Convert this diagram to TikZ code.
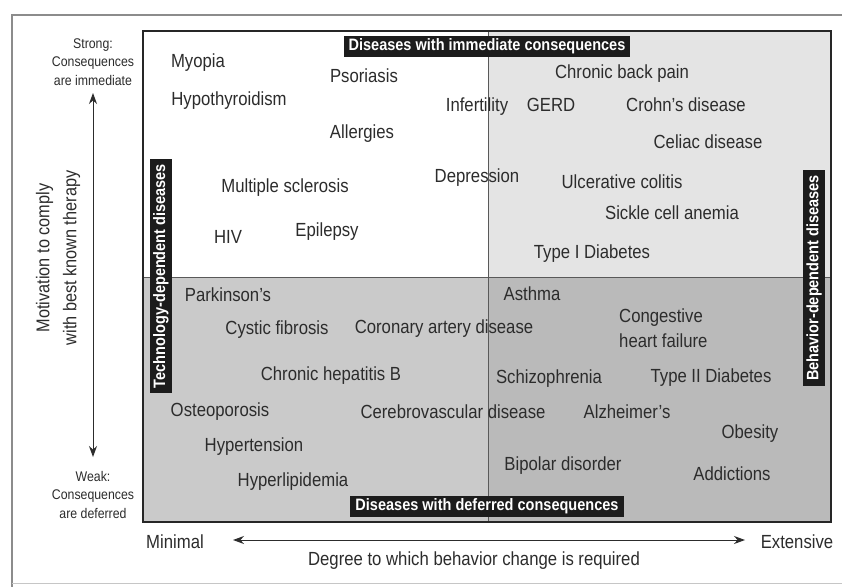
\documentclass[tikz,border=0pt]{standalone}
\usepackage{fontspec}
\setmainfont[FakeStretch=0.88]{Liberation Sans}
\usetikzlibrary{arrows.meta}
\definecolor{ink}{HTML}{2C2C2C}
\definecolor{frame}{HTML}{8C8C8C}
\definecolor{qtr}{HTML}{E4E4E4}
\definecolor{qbl}{HTML}{CACACA}
\definecolor{qbr}{HTML}{BABABA}
\definecolor{tagfill}{HTML}{1C1C1C}
\begin{document}
\begin{tikzpicture}[x=1pt,y=-1pt,
  dz/.style={font=\fontsize{19}{22}\selectfont, text=ink, inner sep=0pt, anchor=base},
  tag/.style={fill=tagfill, text=white, font=\bfseries\fontsize{16.5}{18}\selectfont, inner xsep=5pt, inner ysep=3pt},
  axis/.style={font=\fontsize{14}{18.5}\selectfont, text=ink, inner sep=0pt, align=center, anchor=base},
  endlabel/.style={font=\fontsize{19}{22}\selectfont, text=ink, inner sep=0pt, anchor=base},
  axisarrow/.style={draw=ink, line width=1pt, {Stealth[length=11pt,width=8pt]}-{Stealth[length=11pt,width=8pt]}}]
% canvas and outer frame
\fill[white] (0,0) rectangle (842,586);
\useasboundingbox (0,0) rectangle (842,586);
\draw[frame, line width=1.4pt] (845,15) -- (12,15) -- (12,589);
\draw[frame!50, line width=0.8pt] (12,583) -- (845,583);
% quadrant shading
\fill[white] (143,31) rectangle (488,277);
\fill[qtr] (488,31) rectangle (831,277);
\fill[qbl] (143,277) rectangle (488,522);
\fill[qbr] (488,277) rectangle (831,522);
\draw[black!65, line width=0.9pt] (488,31) -- (488,522);
\draw[black!65, line width=0.9pt] (143,277) -- (831,277);
\draw[black!85, line width=2pt] (143,31) rectangle (831,522);
% quadrant tags
\node[tag] (immediate) at (487,46.5) {Diseases with immediate consequences};
\node[tag] (deferred) at (487,506.5) {Diseases with deferred consequences};
\node[tag, rotate=90] (techdep) at (161,276) {Technology-dependent diseases};
\node[tag, rotate=90] (behavdep) at (814,278) {Behavior-dependent diseases};
% diseases
\node[dz] (myopia) at (198,67) {Myopia};
\node[dz] (hypothyroidism) at (229,105) {Hypothyroidism};
\node[dz] (psoriasis) at (364,82) {Psoriasis};
\node[dz] (allergies) at (362,138) {Allergies};
\node[dz] (infertility) at (477,111) {Infertility};
\node[dz] (gerd) at (551,111) {GERD};
\node[dz] (backpain) at (622,78) {Chronic back pain};
\node[dz] (crohn) at (686,111) {Crohn's disease};
\node[dz] (celiac) at (708,148) {Celiac disease};
\node[dz] (depression) at (477,182) {Depression};
\node[dz] (ms) at (285,192) {Multiple sclerosis};
\node[dz] (colitis) at (622,188) {Ulcerative colitis};
\node[dz] (sickle) at (672,219) {Sickle cell anemia};
\node[dz] (hiv) at (228,243) {HIV};
\node[dz] (epilepsy) at (327,236) {Epilepsy};
\node[dz] (diab1) at (592,258) {Type I Diabetes};
\node[dz] (parkinson) at (228,301) {Parkinson's};
\node[dz] (asthma) at (532,300) {Asthma};
\node[dz, anchor=base west] (chf1) at (619,322) {Congestive};
\node[dz, anchor=base west] (chf2) at (619,347) {heart failure};
\node[dz] (cf) at (277,334) {Cystic fibrosis};
\node[dz] (cad) at (444,333) {Coronary artery disease};
\node[dz] (hepb) at (331,380) {Chronic hepatitis B};
\node[dz] (schizo) at (549,383) {Schizophrenia};
\node[dz] (diab2) at (711,382) {Type II Diabetes};
\node[dz] (osteo) at (220,416) {Osteoporosis};
\node[dz] (cvd) at (453,418) {Cerebrovascular disease};
\node[dz] (alz) at (627,418) {Alzheimer's};
\node[dz] (obesity) at (750,438) {Obesity};
\node[dz] (htn) at (254,451) {Hypertension};
\node[dz] (bipolar) at (563,470) {Bipolar disorder};
\node[dz] (lipid) at (293,486) {Hyperlipidemia};
\node[dz] (addict) at (732,480) {Addictions};
% vertical axis (base anchor sits on the last line)
\node[axis] (strong) at (93,85) {Strong:\\Consequences\\are immediate};
\node[axis] (weak) at (93,518) {Weak:\\Consequences\\are deferred};
\coordinate (vtop) at (93,93);
\coordinate (vbot) at (93,457);
\draw[axisarrow] (vtop) -- (vbot);
\node[font=\fontsize{18.5}{27}\selectfont, text=ink, inner sep=0pt, align=center, rotate=90] (motivation) at (58,258) {Motivation to comply\\with best known therapy};
% horizontal axis
\node[endlabel] (minimal) at (175,548) {Minimal};
\node[endlabel] (extensive) at (797,548) {Extensive};
\node[endlabel] (degree) at (474,565) {Degree to which behavior change is required};
\coordinate (hleft) at (233,540);
\coordinate (hright) at (745,540);
\draw[axisarrow] (hleft) -- (hright);
\end{tikzpicture}
\end{document}
